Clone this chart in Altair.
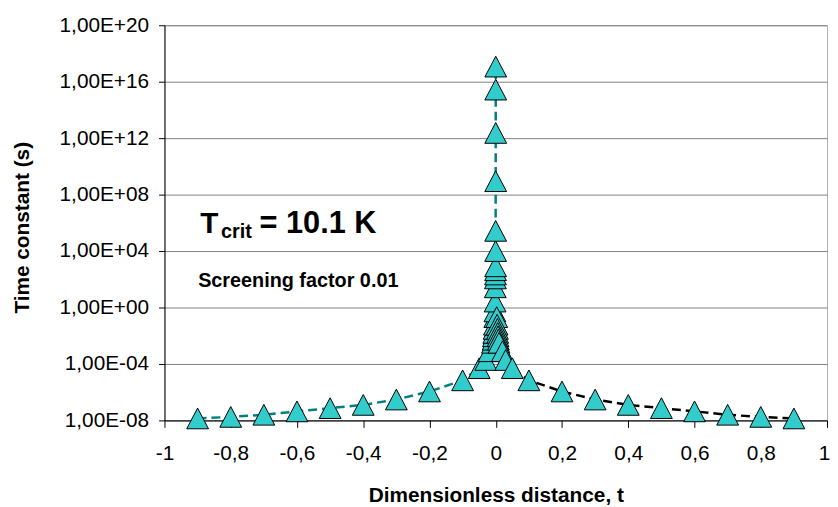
import json
import altair as alt
import pandas as pd

# ---- data ----
left_t = [-0.9, -0.8, -0.7, -0.6, -0.5, -0.4, -0.3, -0.2, -0.1, -0.05, -0.03, -0.02, -0.01,
          -0.008, -0.007, -0.006, -0.005, -0.004, -0.003, -0.0025, -0.002, -0.0015, -0.001,
          -0.0008, -0.0006, -0.0005, -0.0004, -0.0003, -0.0002, -0.0001, -0.00005, -0.00001]
left_log_tau = [-7.86, -7.75, -7.6, -7.36, -7.13, -6.9, -6.52, -5.95, -5.16, -4.3, -3.72, -3.1, -2.5,
                -2.28, -2.04, -1.8, -1.52, -1.22, -0.68, -0.28, 0.42, 1.43, 2.06,
                2.34, 2.64, 2.92, 4.0, 5.43, 8.95, 12.37, 15.44, 17.07]

right_t = [0.003, 0.004, 0.005, 0.006, 0.007, 0.008, 0.01, 0.02, 0.03, 0.05,
           0.1, 0.2, 0.3, 0.4, 0.5, 0.6, 0.7, 0.8, 0.9]
right_log_tau = [-0.68, -1.22, -1.52, -1.8, -2.04, -2.28, -2.5, -3.1, -3.72, -4.3,
                 -5.16, -5.95, -6.52, -6.9, -7.13, -7.36, -7.6, -7.75, -7.86]

x_tick_values = [-1, -0.8, -0.6, -0.4, -0.2, 0, 0.2, 0.4, 0.6, 0.8, 1]
x_tick_labels = ["-1", "-0,8", "-0,6", "-0,4", "-0,2", "0", "0,2", "0,4", "0,6", "0,8", "1"]
y_tick_values = [1e-8, 1e-4, 1e0, 1e4, 1e8, 1e12, 1e16, 1e20]
y_tick_labels = ["1,00E-08", "1,00E-04", "1,00E+00", "1,00E+04", "1,00E+08",
                 "1,00E+12", "1,00E+16", "1,00E+20"]

series_names = ["left", "right"]
series_colors = ["#008080", "#000000"]

rows = []
for i, (t, lt) in enumerate(zip(left_t, left_log_tau)):
    rows.append({"series": "left", "t": t, "tau": 10 ** lt, "idx": i})
for i, (t, lt) in enumerate(zip(right_t, right_log_tau)):
    rows.append({"series": "right", "t": t, "tau": 10 ** lt, "idx": i})
df = pd.DataFrame(rows)

FONT = "Liberation Sans"

x_enc = alt.X("t:Q",
              scale=alt.Scale(domain=[-1, 1], nice=False, zero=False),
              axis=alt.Axis(values=x_tick_values,
                            labelExpr=f"{json.dumps(x_tick_labels)}[round((datum.value + 1) * 5)]",
                            labelOffset={"condition": {"test": "datum.value >= 1", "value": -3},
                                         "value": 0},
                            grid=False, tickSize=7, labelPadding=15,
                            title="Dimensionless distance, t",
                            titleX=334.5, titleY=82, titleBaseline="alphabetic",
                            labelFlush=False))
y_enc = alt.Y("tau:Q",
              scale=alt.Scale(type="log", domain=[1e-8, 1e20], nice=False),
              axis=alt.Axis(values=y_tick_values,
                            labelExpr=f"{json.dumps(y_tick_labels)}[round(log(datum.value) / LN10 / 4) + 2]",
                            grid=True, gridColor="#808080", gridWidth=1,
                            tickSize=6, labelPadding=10,
                            title="Time constant (s)",
                            titleX=-143, titleY=204, titleBaseline="middle"))

color_enc = alt.Color("series:N",
                      scale=alt.Scale(domain=series_names, range=series_colors),
                      legend=None)

lines = alt.Chart(df).mark_line(strokeDash=[9, 5], strokeWidth=2.5).encode(
    x=x_enc, y=y_enc, color=color_enc, order="idx:Q")

tri = "M0,-0.95L1,0.95L-1,0.95Z"
points = alt.Chart(df).mark_point(shape=tri, size=484, fill="#33CCCC", stroke="#000000",
                                  strokeWidth=1, opacity=1, fillOpacity=1).encode(
    x="t:Q", y="tau:Q")

ann1 = alt.Chart(pd.DataFrame({"label": ["T"]})).mark_text(
    font=FONT, fontSize=30, fontWeight="bold", align="left", baseline="alphabetic",
    color="#000").encode(x=alt.value(36), y=alt.value(210), text="label:N")
ann2 = alt.Chart(pd.DataFrame({"label": ["crit"]})).mark_text(
    font=FONT, fontSize=20, fontWeight="bold", align="left", baseline="alphabetic",
    color="#000").encode(x=alt.value(57), y=alt.value(215), text="label:N")
ann3 = alt.Chart(pd.DataFrame({"label": ["= 10.1 K"]})).mark_text(
    font=FONT, fontSize=31, fontWeight="bold", align="left", baseline="alphabetic",
    color="#000").encode(x=alt.value(96), y=alt.value(210), text="label:N")
ann4 = alt.Chart(pd.DataFrame({"label": ["Screening factor 0.01"]})).mark_text(
    font=FONT, fontSize=20, fontWeight="bold", align="left", baseline="alphabetic",
    color="#000").encode(x=alt.value(34), y=alt.value(264), text="label:N")

chart = alt.layer(lines, points, ann1, ann2, ann3, ann4).properties(
    width=669, height=399,
    padding={"left": 158, "top": 15, "right": 3, "bottom": 84},
    autosize="none",
).configure_view(stroke="#b3b3b3", strokeWidth=1).configure_axis(
    labelFont=FONT, labelFontSize=21, labelColor="#000",
    titleFont=FONT, titleFontSize=21, titleFontWeight="bold", titleColor="#000",
    domainColor="#000", tickColor="#000", domainWidth=1, tickWidth=1,
)

chart.save("out.html", embed_options={"renderer": "svg", "actions": False})
